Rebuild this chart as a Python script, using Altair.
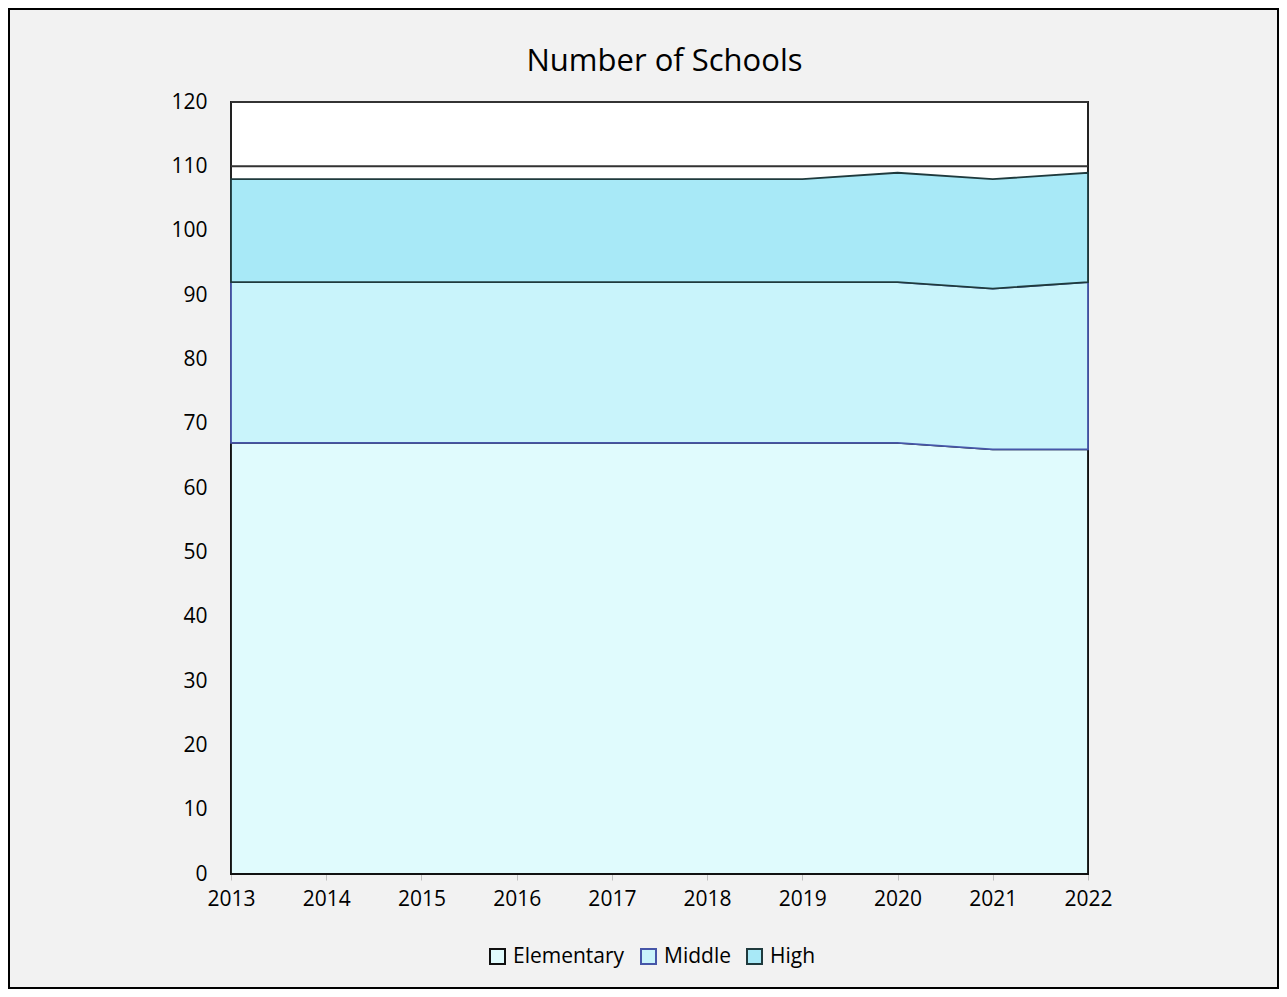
import altair as alt
import pandas as pd

TITLE = "Number of Schools"
YEARS = [2013, 2014, 2015, 2016, 2017, 2018, 2019, 2020, 2021, 2022]
LEVELS = ["Elementary", "Middle", "High"]
ELEMENTARY = [67, 67, 67, 67, 67, 67, 67, 67, 66, 66]
MIDDLE = [25, 25, 25, 25, 25, 25, 25, 25, 25, 26]
HIGH = [16, 16, 16, 16, 16, 16, 16, 17, 17, 17]
Y_TICKS = list(range(0, 121, 10))
Y_MAX = 120

FILLS = ["#e0fbfd", "#c9f4fb", "#a8e9f7"]
STROKES = ["#111111", "#4656a8", "#1f3a3d"]
FONT = "Open Sans"

# long table with stacked bounds
rows = []
series = {"Elementary": ELEMENTARY, "Middle": MIDDLE, "High": HIGH}
for i, y in enumerate(YEARS):
    base = 0
    for lv in LEVELS:
        v = series[lv][i]
        rows.append({"year": y, "level": lv, "value": v, "lower": base, "upper": base + v})
        base += v
df = pd.DataFrame(rows)

W, H = 857, 772
PAD = {"left": 223, "top": 94, "right": 191, "bottom": 115}

x_axis = alt.Axis(values=YEARS, format="d", title=None, grid=False, domain=False,
                  ticks=True, tickSize=6, tickColor="#bfbfbf", tickWidth=1,
                  labelFlush=False, labelOverlap=False,
                  labelFont=FONT, labelFontSize=21, labelColor="#000000", labelPadding=8)
y_axis = alt.Axis(values=Y_TICKS, title=None, grid=False, domain=False, ticks=False,
                  labelFlush=False, labelOverlap=False,
                  labelFont=FONT, labelFontSize=21, labelColor="#000000", labelPadding=24)
x_scale = alt.Scale(domain=[YEARS[0], YEARS[-1]], nice=False, zero=False)
y_scale = alt.Scale(domain=[0, Y_MAX], nice=False)

legend = alt.Legend(orient="none", legendX=256, legendY=844, direction="horizontal",
                    title=None, symbolType="square", symbolSize=225, symbolStrokeWidth=2,
                    labelFont=FONT, labelFontSize=21, labelColor="#000000",
                    columnPadding=12, labelOffset=5)
fill_scale = alt.Scale(domain=LEVELS, range=FILLS)
stroke_scale = alt.Scale(domain=LEVELS, range=STROKES)

wall_df = pd.DataFrame({"x": [YEARS[0]], "x2": [YEARS[-1]], "y": [0], "y2": [Y_MAX]})
wall = alt.Chart(wall_df).mark_rect(fill="#ffffff", stroke="#222222", strokeWidth=2).encode(
    x=alt.X("x:Q", scale=x_scale, axis=x_axis), x2="x2:Q",
    y=alt.Y("y:Q", scale=y_scale, axis=y_axis), y2="y2:Q")

grid_df = pd.DataFrame({"tick": Y_TICKS, "x": YEARS[0], "x2": YEARS[-1]})
grid = alt.Chart(grid_df).mark_rule(stroke="#333333", strokeWidth=2).encode(
    x=alt.X("x:Q", scale=x_scale), x2="x2:Q", y=alt.Y("tick:Q", scale=y_scale))

areas = []
for lv in LEVELS:
    a = alt.Chart(df).transform_filter(alt.datum.level == lv).mark_area(
        strokeWidth=1.8, fillOpacity=1, interpolate="linear").encode(
        x=alt.X("year:Q", scale=x_scale, axis=x_axis),
        y=alt.Y("upper:Q", scale=y_scale, axis=y_axis),
        y2="lower:Q",
        fill=alt.Fill("level:N", scale=fill_scale, legend=legend, sort=LEVELS),
        stroke=alt.Stroke("level:N", scale=stroke_scale, legend=legend, sort=LEVELS),
    )
    areas.append(a)

title = alt.Chart(pd.DataFrame({"t": [TITLE]})).mark_text(
    font=FONT, fontSize=31, color="#000000", align="center", baseline="middle").encode(
    text="t:N", x=alt.value(W / 2 + 5), y=alt.value(-40))

border = alt.Chart(pd.DataFrame({"b": [0]})).mark_rect(
    fillOpacity=0, stroke="#000000", strokeWidth=2).encode(
    x=alt.value(-PAD["left"] + 1), x2=alt.value(W + PAD["right"] - 1),
    y=alt.value(-PAD["top"] + 1), y2=alt.value(H + PAD["bottom"] - 1))

chart = alt.layer(wall, grid, *areas, title, border).properties(
    width=W, height=H, padding=PAD, autosize=alt.AutoSizeParams(type="none")
).configure(background="#f2f2f2").configure_view(stroke=None)

chart.save("out.html", embed_options={"renderer": "svg", "actions": False})
